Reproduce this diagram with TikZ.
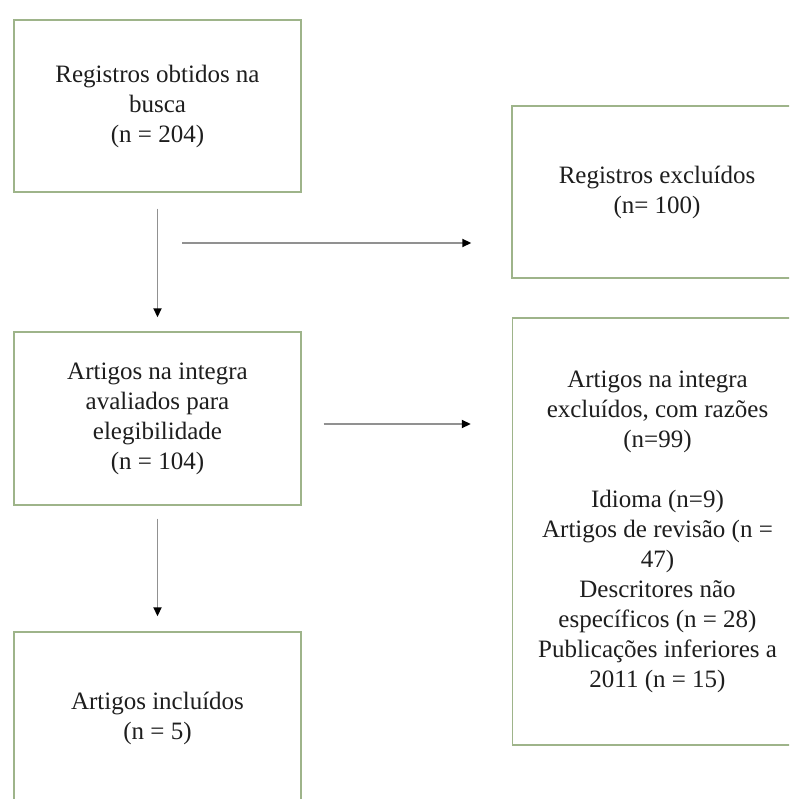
\documentclass[tikz,border=0pt]{standalone}
\usepackage{fontspec}
\setmainfont{Liberation Serif}
\usetikzlibrary{positioning,arrows.meta}
\definecolor{boxline}{RGB}{158,180,138}
\definecolor{arrline}{RGB}{145,145,145}
\definecolor{txtcol}{RGB}{30,30,30}

\begin{document}
\begin{tikzpicture}[
  x=1pt, y=-1pt,
  font=\fontsize{25pt}{30pt}\selectfont, text=txtcol,
  box/.style={draw=boxline,line width=1.4pt,fill=white,align=center,minimum width=287pt,inner sep=0pt},
  arr/.style={draw=arrline,line width=1.8pt,-{Triangle[length=9pt,width=8pt,color=black]}}
]
\useasboundingbox (0,0) rectangle (789,799);
\clip (0,0) rectangle (789,799);
\node[box,minimum height=172pt] (busca) at (157.5,106) {Registros obtidos na\\busca\\(n = 204)};
\node[box,minimum height=172pt,minimum width=290pt] (regexc) at (657,192) {Registros excluídos\\(n= 100)};
\node[box,minimum height=173pt] (aval) at (157.5,418.5) {Artigos na integra\\avaliados para\\elegibilidade\\(n = 104)};
\node[box,minimum height=427pt,minimum width=290pt] (artexc) at (657.5,531.5) {Artigos na integra\\excluídos, com razões\\(n=99)\\[30pt]Idioma (n=9)\\Artigos de revisão (n =\\47)\\Descritores não\\específicos (n = 28)\\Publicações inferiores a\\2011 (n = 15)};
\node[box,minimum height=172pt] (incl) at (157.5,718) {Artigos incluídos\\(n = 5)};
\coordinate (split) at (182,243);
\draw[arr,shorten <=16pt,shorten >=14pt] (busca) -- (aval);
\draw[arr,shorten >=40pt] (split) -- (split -| regexc.west);
\draw[arr,shorten <=22pt,shorten >=41pt] ([yshift=-5.5pt]aval.east) -- ([yshift=-5.5pt]aval.east -| artexc.west);
\draw[arr,shorten <=13pt,shorten >=15pt] (aval) -- (incl);
\end{tikzpicture}
\end{document}
